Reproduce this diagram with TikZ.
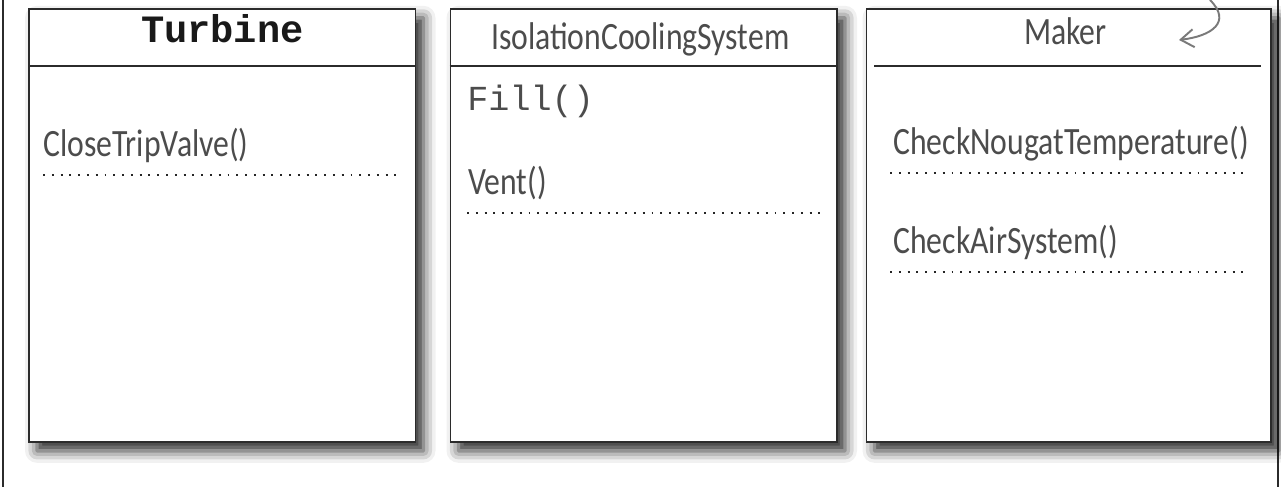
\documentclass[tikz,border=0pt]{standalone}
\usepackage{fontspec}
\setmonofont{Liberation Mono}
\newfontfamily\handfont[FakeStretch=0.82]{Carlito}
\usetikzlibrary{arrows.meta,positioning,calc,shadows.blur}
\definecolor{cline}{HTML}{2B2B2B}
\definecolor{cpen}{HTML}{4C4C4C}
\definecolor{carrow}{HTML}{7A7A7A}
\tikzset{
  umlbox/.style={draw=cline, line width=0.9pt, fill=white, minimum height=86.6mm, inner sep=0pt,
    blur shadow={shadow xshift=1.6mm, shadow yshift=-1.8mm, shadow blur radius=2.4mm, shadow opacity=85}},
  hdrline/.style={draw=cline, line width=0.9pt},
  ttl/.style={anchor=base, inner sep=0pt, font=\ttfamily\bfseries\fontsize{22}{26}\selectfont, text=black!90},
  hand/.style={anchor=base west, inner sep=0pt, font=\handfont\fontsize{22}{26}\selectfont, text=cpen},
  htitle/.style={hand, anchor=base},
  mono/.style={anchor=base west, inner sep=0pt, font=\ttfamily\fontsize{20}{24}\selectfont, text=cpen},
  dotrule/.style={line width=1.2pt, dash pattern=on 1.1pt off 3.9pt, draw=black!85},
  rim/.style={draw=cline, line width=1.3pt},
  note/.style={-{Straight Barb[length=2.6mm,width=3.6mm]}, draw=carrow, line width=1.1pt},
}

\begin{document}
\begin{tikzpicture}
\useasboundingbox (0,0) rectangle (25.62,9.74);
% page edges
\draw[rim] (0.06,0) -- (0.06,9.74);
\draw[rim] (25.56,0) -- (25.56,9.74);
% turbine
\node[umlbox, minimum width=77.3mm] (turb) at (4.445,5.233) {};
\draw[hdrline] ($(turb.north west)+(0,-1.16)$) -- ($(turb.north east)+(0,-1.16)$);
\node[ttl] (turbttl) at ($(turb.north)+(0,-0.68)$) {Turbine};
\node[hand] (ctv) at (0.86,6.60) {CloseTripValve()};
\draw[dotrule] ($(ctv.base west)+(0,-0.36)$) -- ++(7.08,0);
% isolation cooling
\node[umlbox, minimum width=77.3mm] (iso) at (12.875,5.233) {};
\draw[hdrline] ($(iso.north west)+(0,-1.16)$) -- ($(iso.north east)+(0,-1.16)$);
\node[htitle] (isottl) at ($(iso.north)+(-0.07,-0.82)$) {IsolationCoolingSystem};
\node[mono] (fill) at (9.34,7.52) {Fill()};
\node[hand] (vent) at (9.36,5.84) {Vent()};
\draw[dotrule] ($(vent.base west)+(-0.02,-0.36)$) -- ++(7.10,0);
% maker
\node[umlbox, minimum width=80.9mm] (mkr) at (21.375,5.233) {};
\draw[hdrline] ($(mkr.north west)+(0.17,-1.16)$) -- ($(mkr.north east)+(-0.22,-1.16)$);
\node[htitle] (mkrttl) at ($(mkr.north)+(-0.07,-0.72)$) {Maker};
\node[hand] (cnt) at (17.86,6.64) {CheckNougatTemperature()};
\draw[dotrule] ($(cnt.base west)+(-0.06,-0.36)$) -- ++(7.10,0);
\node[hand] (cas) at (17.86,4.66) {CheckAirSystem()};
\draw[dotrule] ($(cas.base west)+(-0.06,-0.36)$) -- ++(7.10,0);
% pointer
\coordinate (arrfrom) at (24.20,9.74);
\coordinate (arrto) at (23.58,8.94);
\draw[note] (arrfrom) .. controls (24.64,9.30) and (24.24,9.02) .. (arrto);
\end{tikzpicture}
\end{document}
